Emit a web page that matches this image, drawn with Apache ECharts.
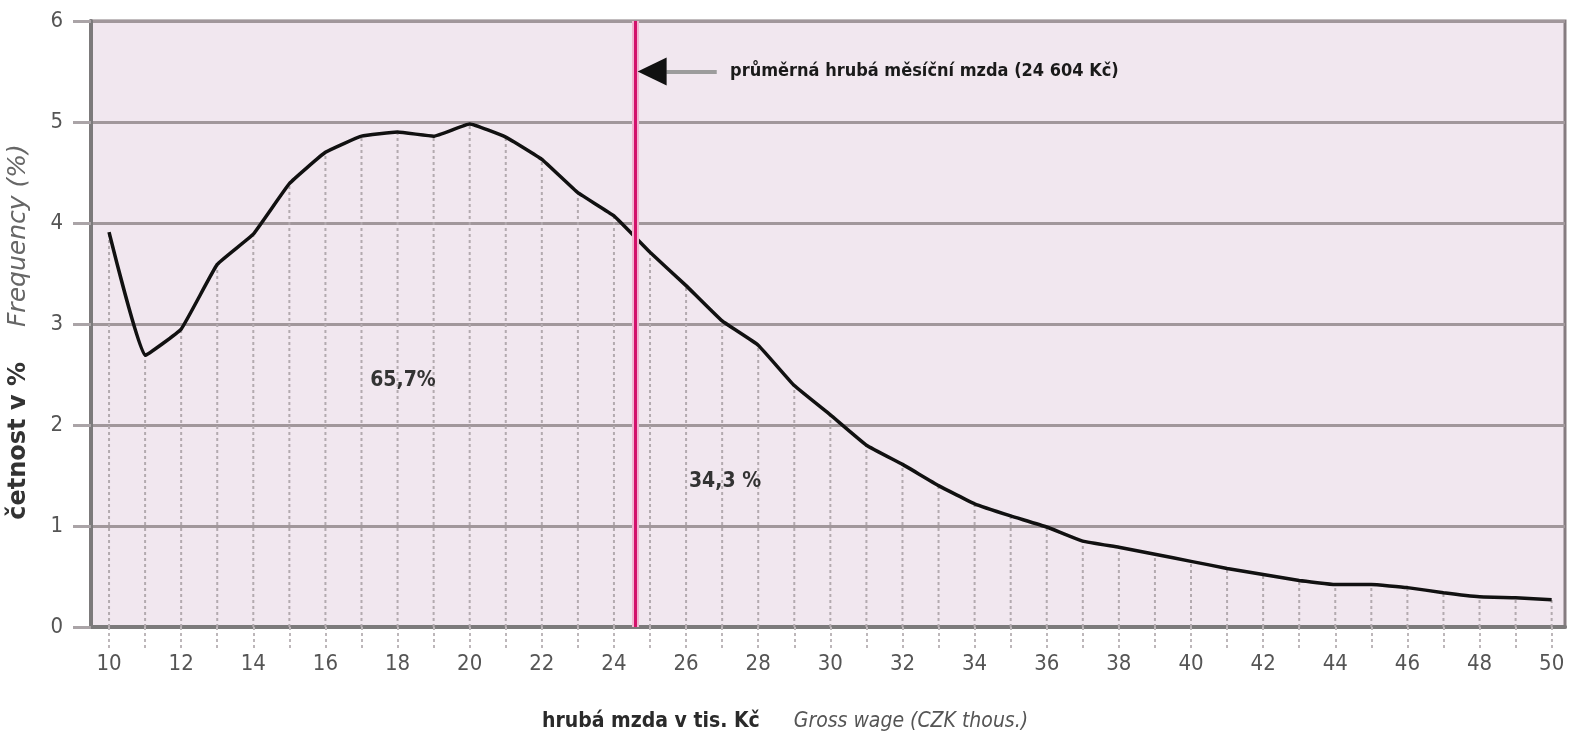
<!DOCTYPE html>
<html>
<head>
<meta charset="utf-8">
<script src="https://cdn.jsdelivr.net/npm/echarts@6/dist/echarts.min.js"></script>
<style>
  html, body { margin: 0; padding: 0; background: #fff; }
  #main { width: 1570px; height: 746px; }
</style>
</head>
<body>
<div id="main"></div>
<script>
var myChart = echarts.init(document.getElementById('main'));

// hrubá mzda (tis. Kč) a četnost (%)
const wageK = [10, 11, 12, 13, 14, 15, 16, 17, 18, 19, 20, 21, 22, 23, 24, 25, 26, 27, 28, 29,
  30, 31, 32, 33, 34, 35, 36, 37, 38, 39, 40, 41, 42, 43, 44, 45, 46, 47, 48, 49, 50];
const freqPct = [3.91, 2.69, 2.95, 3.59, 3.89, 4.39, 4.70, 4.86, 4.90, 4.86, 4.98, 4.85, 4.63, 4.30,
  4.07, 3.71, 3.38, 3.03, 2.79, 2.39, 2.10, 1.80, 1.61, 1.40, 1.22, 1.10, 0.99, 0.85, 0.79, 0.72,
  0.65, 0.58, 0.52, 0.46, 0.42, 0.42, 0.39, 0.34, 0.30, 0.29, 0.27];
const xLabelValues = [10, 12, 14, 16, 18, 20, 22, 24, 26, 28, 30, 32, 34, 36, 38, 40, 42, 44, 46, 48, 50];
const meanWage = 24.604;
const meanText = 'průměrná hrubá měsíční mzda (24 604 Kč)';
const shareBelow = '65,7%';
const shareAbove = '34,3 %';

const font = "'Liberation Sans Narrow', 'DejaVu Sans Condensed', 'Arial Narrow', sans-serif";
const wideFont = "'DejaVu Sans', sans-serif";

const points = wageK.map(function (w, i) { return [w, freqPct[i]]; });

const option = {
  animation: false,
  textStyle: { fontFamily: font },
  grid: {
    left: 91, right: 5, top: 21, bottom: 119,
    outerBoundsMode: 'none',
    show: true,
    backgroundColor: '#f1e7ef',
    borderColor: '#857c80',
    borderWidth: 3
  },
  xAxis: {
    type: 'value',
    min: 9.5,
    max: 50.37,
    name: '{b|hrubá mzda v tis. Kč}{s|}{i|Gross wage (CZK thous.)}',
    nameLocation: 'middle',
    nameGap: 84,
    nameTextStyle: {
      padding: [0, 86, 0, 0],
      rich: {
        b: { fontFamily: font, fontSize: 21, fontWeight: 'bold', color: '#2a2a2a' },
        s: { width: 34 },
        i: { fontFamily: font, fontSize: 21, fontStyle: 'italic', color: '#555' }
      }
    },
    axisLine: { lineStyle: { color: '#7c7a7b', width: 4 } },
    axisTick: {
      show: true,
      customValues: wageK,
      length: 24,
      lineStyle: { color: '#bdb7ba', width: 2, type: [3, 3] }
    },
    axisLabel: {
      customValues: xLabelValues,
      margin: 26,
      fontSize: 22,
      color: '#555',
      fontFamily: font
    },
    splitLine: { show: false }
  },
  yAxis: {
    type: 'value',
    min: 0,
    max: 6,
    interval: 1,
    name: '{b|četnost v %}{s|}{i|Frequency (%)}',
    nameLocation: 'middle',
    nameRotate: 90,
    nameGap: 60,
    nameTextStyle: {
      padding: [0, 16, 0, 0],
      rich: {
        b: { fontFamily: wideFont, fontSize: 24, fontWeight: 'bold', color: '#333' },
        s: { width: 35 },
        i: { fontFamily: wideFont, fontSize: 25, fontStyle: 'italic', color: '#666' }
      }
    },
    axisLine: { show: true, lineStyle: { color: '#7c7a7b', width: 4 } },
    axisTick: { show: true, length: 18, lineStyle: { color: '#aaa4a7', width: 3 } },
    axisLabel: { margin: 28, fontSize: 22, color: '#555', fontFamily: font },
    splitLine: { lineStyle: { color: '#a1979b', width: 3 } }
  },
  series: [
    {
      // tečkované svislice pod křivkou
      type: 'custom',
      silent: true,
      z: 1,
      renderItem: function (params, api) {
        var top = api.coord([api.value(0), api.value(1)]);
        var bottom = api.coord([api.value(0), 0]);
        return {
          type: 'line',
          shape: { x1: bottom[0], y1: bottom[1], x2: top[0], y2: top[1] },
          style: { stroke: '#b3aaaf', lineWidth: 2, lineDash: [3, 3] }
        };
      },
      encode: { x: 0, y: 1 },
      data: points
    },
    {
      type: 'line',
      z: 3,
      data: points,
      smooth: 0.1,
      showSymbol: false,
      lineStyle: { color: '#111', width: 3.5 },
      markLine: {
        silent: true,
        symbol: 'none',
        label: { show: false },
        data: [
          { xAxis: meanWage, lineStyle: { color: '#f1b6d2', width: 7, type: 'solid' } },
          { xAxis: meanWage, lineStyle: { color: '#d2126b', width: 3, type: 'solid' } },
          [
            { coord: [25.45, 5.5], lineStyle: { color: '#9c9c9c', width: 4, type: 'solid' } },
            { coord: [26.85, 5.5] }
          ]
        ]
      },
      markPoint: {
        silent: true,
        data: [
          {
            coord: [24.67, 5.5],
            symbol: 'path://M0,5 L10,0 L10,10 Z',
            symbolSize: [29, 28],
            symbolOffset: [14, 0],
            itemStyle: { color: '#111' },
            label: { show: false }
          },
          {
            coord: [27.22, 5.5],
            symbol: 'circle',
            symbolSize: 0,
            label: {
              show: true, position: 'right', distance: 0,
              formatter: meanText,
              fontFamily: font, fontSize: 18, fontWeight: 'bold', color: '#1a1a1a'
            }
          },
          {
            coord: [18.15, 2.44],
            symbol: 'circle',
            symbolSize: 0,
            label: {
              show: true, position: 'inside',
              formatter: shareBelow,
              fontFamily: font, fontSize: 21, fontWeight: 'bold', color: '#333'
            }
          },
          {
            coord: [27.08, 1.44],
            symbol: 'circle',
            symbolSize: 0,
            label: {
              show: true, position: 'inside',
              formatter: shareAbove,
              fontFamily: font, fontSize: 21, fontWeight: 'bold', color: '#333'
            }
          }
        ]
      }
    }
  ]
};

myChart.setOption(option);
</script>
</body>
</html>
